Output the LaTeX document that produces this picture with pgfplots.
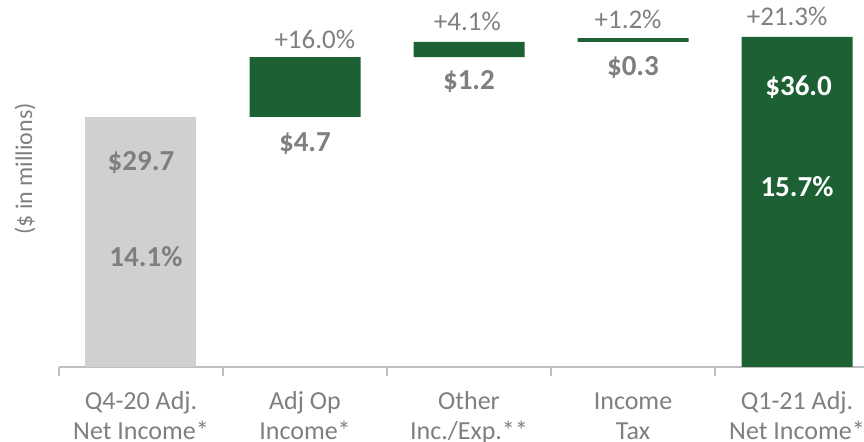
\documentclass[border=0pt]{standalone}
\usepackage{pgfplots}
\pgfplotsset{compat=1.18}
\usepackage{fontspec}
\setmainfont{Carlito}

\definecolor{wfgreen}{HTML}{1C6033}
\definecolor{wfgrey}{HTML}{D0D0D0}
\definecolor{txtgrey}{HTML}{7F7F7F}
\definecolor{axgrey}{HTML}{BFBFBF}

\tikzset{
  vallab/.style={font=\fontsize{14.5}{17}\selectfont\bfseries, text=txtgrey},
  pctlab/.style={font=\fontsize{13.5}{16}\selectfont, text=txtgrey},
}

\begin{document}
\begin{tikzpicture}
\begin{axis}[
    at={(0,0)}, anchor=south west,
    x=82pt, y=6.35pt,
    xmin=-0.5, xmax=4.5, ymin=10, ymax=39,
    ybar stacked, bar width=55.5pt,
    axis x line=bottom, axis y line=none,
    x axis line style={-, draw=axgrey, line width=0.8pt},
    xtick={0,1,2,3,4},
    xticklabels={{\strut Q4-20 Adj.\\\strut Net Income*},{\strut Adj Op\\\strut Income*},{\strut Other\\\strut Inc./Exp.**},{\strut Income\\\strut Tax},{\strut Q1-21 Adj.\\\strut Net Income*}},
    major tick length=0pt,
    minor xtick={-0.5,0.5,1.5,2.5,3.5,4.5},
    minor tick length=4.5pt,
    tick align=outside,
    x tick style={draw=axgrey, line width=0.8pt},
    xticklabel style={align=center, text=txtgrey, yshift=-7pt, font=\fontsize{13}{15.2}\selectfont},
    after end axis/.code={
      \node[vallab] at (axis cs:0,26.1) {\$29.7};
      \node[vallab] at (axis cs:0.03,18.7) {14.1\%};
      \node[vallab] at (axis cs:1,27.6) {\$4.7};
      \node[vallab] at (axis cs:2,32.5) {\$1.2};
      \node[vallab] at (axis cs:3,33.6) {\$0.3};
      \node[vallab, text=white] at (axis cs:4.01,32.0) {\$36.0};
      \node[vallab, text=white] at (axis cs:4,24.2) {15.7\%};
      \node[pctlab] at (axis cs:1.06,35.8) {+16.0\%};
      \node[pctlab] at (axis cs:1.99,37.2) {+4.1\%};
      \node[pctlab] at (axis cs:2.97,37.4) {+1.2\%};
      \node[pctlab] at (axis cs:3.94,37.6) {+21.3\%};
      \node[rotate=90, font=\fontsize{12}{14}\selectfont, text=txtgrey] at (axis cs:-0.707,25.6) {(\$ in millions)};
    },
]
% invisible base, then start bar, then changes and end bar
\addplot[draw=none, fill=none] coordinates {(0,0) (1,29.7) (2,34.4) (3,35.6) (4,0)};
\addplot[draw=none, fill=wfgrey] coordinates {(0,29.7) (1,0) (2,0) (3,0) (4,0)};
\addplot[draw=none, fill=wfgreen] coordinates {(0,0) (1,4.7) (2,1.2) (3,0.3) (4,36.0)};
\end{axis}
\pgfresetboundingbox
\useasboundingbox (-29.5pt,-37.5pt) rectangle (402.5pt,183.5pt);
\end{tikzpicture}
\end{document}
